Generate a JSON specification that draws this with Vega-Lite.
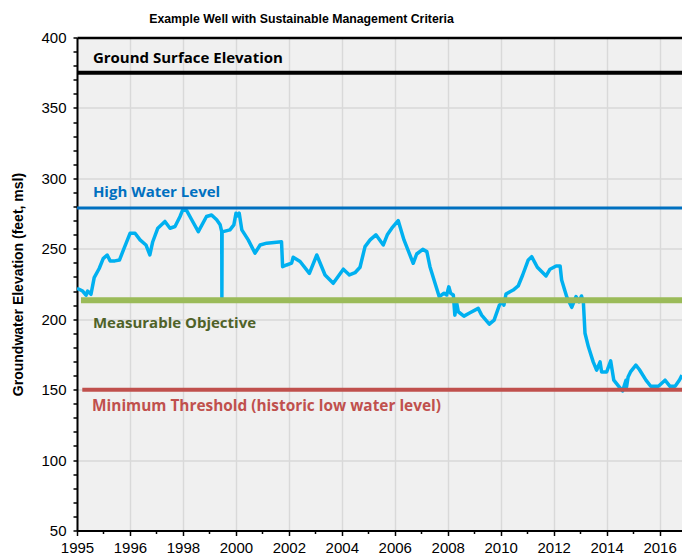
{
  "$schema": "https://vega.github.io/schema/vega-lite/v6.json",
  "width": 605,
  "height": 493,
  "autosize": "none",
  "padding": {"left": 77, "top": 37.5, "right": 0, "bottom": 26.5},
  "background": "white",
  "config": {
    "view": {"stroke": null, "fill": "#f0f0f0"},
    "axis": {"labelFont": "Liberation Sans", "labelFontSize": 15, "labelColor": "black", "titleFont": "Liberation Sans", "titleColor": "black"}
  },
  "title": {
    "text": "Example Well with Sustainable Management Criteria",
    "font": "Liberation Sans",
    "fontSize": 12.3,
    "fontWeight": "bold",
    "color": "black",
    "anchor": "middle",
    "frame": "group",
    "baseline": "alphabetic",
    "dx": -78,
    "offset": -4.5
  },
  "resolve": {"axis": {"x": "independent", "y": "independent"}},
  "datasets": {
    "water": [
      {"date": "1995-01-01", "level": 222},
      {"date": "1995-03-20", "level": 220},
      {"date": "1995-05-05", "level": 217},
      {"date": "1995-05-27", "level": 220},
      {"date": "1995-07-13", "level": 217.7},
      {"date": "1995-08-26", "level": 229.5},
      {"date": "1995-11-03", "level": 236},
      {"date": "1995-12-28", "level": 243},
      {"date": "1996-02-21", "level": 245.6},
      {"date": "1996-04-02", "level": 241.4},
      {"date": "1996-06-07", "level": 241.4},
      {"date": "1996-08-08", "level": 242},
      {"date": "1996-10-01", "level": 249},
      {"date": "1997-01-01", "level": 261},
      {"date": "1997-03-11", "level": 261},
      {"date": "1997-05-19", "level": 256.3},
      {"date": "1997-08-08", "level": 252.7},
      {"date": "1997-10-01", "level": 245.6},
      {"date": "1997-11-10", "level": 255},
      {"date": "1998-01-19", "level": 264.6},
      {"date": "1998-04-27", "level": 269.4},
      {"date": "1998-07-06", "level": 264.6},
      {"date": "1998-09-13", "level": 265.8},
      {"date": "1998-11-21", "level": 272.9},
      {"date": "1998-12-28", "level": 277.6},
      {"date": "1999-02-21", "level": 277.1},
      {"date": "1999-05-01", "level": 270.6},
      {"date": "1999-07-31", "level": 262.2},
      {"date": "1999-11-21", "level": 272.9},
      {"date": "2000-01-30", "level": 274},
      {"date": "2000-04-09", "level": 270.6},
      {"date": "2000-05-27", "level": 267},
      {"date": "2000-06-18", "level": 262.2},
      {"date": "2000-06-20", "level": 215.5},
      {"date": "2000-06-23", "level": 262},
      {"date": "2000-10-09", "level": 263.4},
      {"date": "2000-12-02", "level": 267},
      {"date": "2001-01-01", "level": 275.3},
      {"date": "2001-01-23", "level": 273.4},
      {"date": "2001-02-14", "level": 275.3},
      {"date": "2001-03-22", "level": 263.4},
      {"date": "2001-06-18", "level": 256.3},
      {"date": "2001-09-20", "level": 246.9},
      {"date": "2001-11-29", "level": 252.7},
      {"date": "2002-02-28", "level": 254},
      {"date": "2002-09-20", "level": 255},
      {"date": "2002-10-05", "level": 237.3},
      {"date": "2002-11-29", "level": 238.5},
      {"date": "2003-02-06", "level": 239.8},
      {"date": "2003-02-28", "level": 244},
      {"date": "2003-06-03", "level": 241},
      {"date": "2003-10-09", "level": 232.6},
      {"date": "2004-01-19", "level": 245.6},
      {"date": "2004-05-12", "level": 231.4},
      {"date": "2004-09-02", "level": 225.5},
      {"date": "2005-01-19", "level": 235.5},
      {"date": "2005-04-13", "level": 231.4},
      {"date": "2005-06-29", "level": 233},
      {"date": "2005-09-06", "level": 236.9},
      {"date": "2005-11-14", "level": 251.5},
      {"date": "2006-01-23", "level": 256.3},
      {"date": "2006-04-13", "level": 259.9},
      {"date": "2006-07-24", "level": 252.7},
      {"date": "2006-09-17", "level": 259.9},
      {"date": "2006-11-18", "level": 264.6},
      {"date": "2007-02-14", "level": 270},
      {"date": "2007-05-05", "level": 256.3},
      {"date": "2007-09-09", "level": 239.7},
      {"date": "2007-10-27", "level": 246.3},
      {"date": "2008-01-19", "level": 249.6},
      {"date": "2008-03-15", "level": 248},
      {"date": "2008-04-27", "level": 237.3},
      {"date": "2008-07-06", "level": 225.5},
      {"date": "2008-09-02", "level": 216},
      {"date": "2008-11-07", "level": 218.4},
      {"date": "2008-12-13", "level": 217.2},
      {"date": "2009-01-12", "level": 223},
      {"date": "2009-02-06", "level": 218.4},
      {"date": "2009-03-15", "level": 217.2},
      {"date": "2009-04-05", "level": 202.9},
      {"date": "2009-05-01", "level": 211.3},
      {"date": "2009-05-23", "level": 205.3},
      {"date": "2009-08-08", "level": 202.2},
      {"date": "2009-10-31", "level": 204.6},
      {"date": "2010-02-21", "level": 207.7},
      {"date": "2010-04-09", "level": 202.9},
      {"date": "2010-07-24", "level": 196.5},
      {"date": "2010-09-28", "level": 199.4},
      {"date": "2010-12-10", "level": 210},
      {"date": "2011-01-23", "level": 212.4},
      {"date": "2011-02-10", "level": 210},
      {"date": "2011-03-11", "level": 217.9},
      {"date": "2011-05-05", "level": 219.5},
      {"date": "2011-06-18", "level": 220.7},
      {"date": "2011-08-26", "level": 223.6},
      {"date": "2011-10-27", "level": 231.4},
      {"date": "2012-01-12", "level": 242.1},
      {"date": "2012-02-28", "level": 244.4},
      {"date": "2012-05-16", "level": 236.9},
      {"date": "2012-09-13", "level": 230.7},
      {"date": "2012-11-07", "level": 235.5},
      {"date": "2013-01-30", "level": 237.8},
      {"date": "2013-03-26", "level": 237.8},
      {"date": "2013-04-16", "level": 227.8},
      {"date": "2013-06-25", "level": 216},
      {"date": "2013-09-02", "level": 208.4},
      {"date": "2013-10-31", "level": 216},
      {"date": "2013-12-13", "level": 212.4},
      {"date": "2014-01-15", "level": 216.5},
      {"date": "2014-02-10", "level": 211.7},
      {"date": "2014-03-04", "level": 190},
      {"date": "2014-04-20", "level": 180.4},
      {"date": "2014-06-25", "level": 169.7},
      {"date": "2014-08-11", "level": 163.8},
      {"date": "2014-09-28", "level": 169.7},
      {"date": "2014-10-19", "level": 162.6},
      {"date": "2014-12-28", "level": 162.6},
      {"date": "2015-02-21", "level": 170.4},
      {"date": "2015-04-05", "level": 156.7},
      {"date": "2015-06-18", "level": 152},
      {"date": "2015-08-04", "level": 149.1},
      {"date": "2015-09-20", "level": 156.7},
      {"date": "2015-09-28", "level": 152},
      {"date": "2015-10-19", "level": 159},
      {"date": "2015-11-21", "level": 162.6},
      {"date": "2016-02-03", "level": 167.4},
      {"date": "2016-03-22", "level": 164.3},
      {"date": "2016-06-21", "level": 156.7},
      {"date": "2016-08-26", "level": 152.4},
      {"date": "2016-12-10", "level": 152.4},
      {"date": "2017-03-11", "level": 156.7},
      {"date": "2017-05-19", "level": 152.4},
      {"date": "2017-07-28", "level": 152.4},
      {"date": "2017-09-24", "level": 156.7},
      {"date": "2017-10-31", "level": 160.3}
    ],
    "criteria": [
      {"name": "Ground Surface Elevation", "label": "Ground Surface Elevation", "value": 375, "start": "1995-01-01", "end": "2017-10-31"},
      {"name": "High Water Level", "label": "High Water Level", "value": 279, "start": "1995-01-01", "end": "2017-10-31"},
      {"name": "Measurable Objective", "label": "Measurable Objective", "value": 213.5, "start": "1995-02-25", "end": "2017-10-31"},
      {"name": "Minimum Threshold", "label": "Minimum Threshold (historic low water level)", "value": 150, "start": "1995-03-15", "end": "2017-10-31"}
    ]
  },
  "layer": [
    {
      "data": {"name": "water"},
      "mark": {"type": "line", "color": "#00B0F0", "strokeWidth": 3.5, "strokeJoin": "round", "clip": true},
      "encoding": {
        "x": {
          "field": "date",
          "type": "temporal",
          "scale": {"type": "utc", "domain": [{"year": 1995, "month": 1, "date": 1, "utc": true}, {"year": 2017, "month": 10, "date": 31, "utc": true}]},
          "axis": {
            "title": null,
            "values": [
              {"year": 1995, "month": 1, "date": 1, "utc": true},
              {"year": 1996, "month": 1, "date": 1, "utc": true},
              {"year": 1996, "month": 12, "date": 31, "utc": true},
              {"year": 1997, "month": 12, "date": 31, "utc": true},
              {"year": 1998, "month": 12, "date": 31, "utc": true},
              {"year": 1999, "month": 12, "date": 31, "utc": true},
              {"year": 2000, "month": 12, "date": 30, "utc": true},
              {"year": 2001, "month": 12, "date": 30, "utc": true},
              {"year": 2002, "month": 12, "date": 30, "utc": true},
              {"year": 2003, "month": 12, "date": 30, "utc": true},
              {"year": 2004, "month": 12, "date": 29, "utc": true},
              {"year": 2005, "month": 12, "date": 29, "utc": true},
              {"year": 2006, "month": 12, "date": 29, "utc": true},
              {"year": 2007, "month": 12, "date": 29, "utc": true},
              {"year": 2008, "month": 12, "date": 28, "utc": true},
              {"year": 2009, "month": 12, "date": 28, "utc": true},
              {"year": 2010, "month": 12, "date": 28, "utc": true},
              {"year": 2011, "month": 12, "date": 28, "utc": true},
              {"year": 2012, "month": 12, "date": 27, "utc": true},
              {"year": 2013, "month": 12, "date": 27, "utc": true},
              {"year": 2014, "month": 12, "date": 27, "utc": true},
              {"year": 2015, "month": 12, "date": 27, "utc": true},
              {"year": 2016, "month": 12, "date": 26, "utc": true}
            ],
            "format": "%Y",
            "labelExpr": "round(datum.index*22) % 2 == 1 ? '' : datum.label",
            "labelOverlap": false,
            "labelFlush": false,
            "labelPadding": 5,
            "grid": true,
            "gridColor": "#d9d9d9",
            "gridWidth": 1.5,
            "gridOpacity": {"condition": {"test": "round(datum.index*22) % 2 == 1", "value": 0}, "value": 1},
            "tickSize": {"condition": {"test": "round(datum.index*22) % 2 == 1", "value": 3}, "value": 5},
            "tickColor": "black",
            "tickWidth": 1.5,
            "domainColor": "black",
            "domainWidth": 2
          }
        },
        "y": {
          "field": "level",
          "type": "quantitative",
          "scale": {"domain": [50, 400], "nice": false, "zero": false},
          "axis": {
            "title": "Groundwater Elevation (feet, msl)",
            "titleFontSize": 14,
            "titleFontWeight": "bold",
            "titlePadding": 15,
            "values": [50,60,70,80,90,100,110,120,130,140,150,160,170,180,190,200,210,220,230,240,250,260,270,280,290,300,310,320,330,340,350,360,370,380,390,400],
            "labelExpr": "datum.value % 50 == 0 ? datum.label : ''",
            "labelOverlap": false,
            "labelFlush": false,
            "labelPadding": 7,
            "grid": true,
            "gridColor": {"condition": {"test": "datum.value == 400", "value": "black"}, "value": "#d9d9d9"},
            "gridWidth": {"condition": {"test": "datum.value == 400", "value": 2.5}, "value": 1.5},
            "gridOpacity": {"condition": {"test": "datum.value % 50 != 0", "value": 0}, "value": 1},
            "tickSize": 4,
            "tickColor": "black",
            "tickWidth": 1.5,
            "domainColor": "black",
            "domainWidth": 2
          }
        }
      }
    },
    {
      "data": {"name": "criteria"},
      "mark": {"type": "rule"},
      "encoding": {
        "x": {"field": "start", "type": "temporal", "axis": null},
        "x2": {"field": "end"},
        "y": {"field": "value", "type": "quantitative", "axis": null},
        "color": {"field": "name", "type": "nominal", "legend": null, "scale": {"domain": ["Ground Surface Elevation", "High Water Level", "Measurable Objective", "Minimum Threshold"], "range": ["#000000", "#0070C0", "#9BBB59", "#C0504D"]}},
        "strokeWidth": {"field": "name", "type": "nominal", "legend": null, "scale": {"type": "ordinal", "domain": ["Ground Surface Elevation", "High Water Level", "Measurable Objective", "Minimum Threshold"], "range": [4, 3, 6, 4]}}
      }
    },
    {
      "data": {"name": "criteria"},
      "transform": [{"filter": "datum.name == 'Ground Surface Elevation'"}],
      "mark": {"type": "text", "align": "left", "baseline": "alphabetic", "dy": -9.5, "font": "Open Sans", "fontWeight": "bold", "fontSize": 15, "color": "#000000"},
      "encoding": {
        "x": {"datum": {"year": 1995, "month": 8, "date": 8, "utc": true}, "type": "temporal", "axis": null},
        "y": {"field": "value", "type": "quantitative", "axis": null},
        "text": {"field": "label"}
      }
    },
    {
      "data": {"name": "criteria"},
      "transform": [{"filter": "datum.name == 'High Water Level'"}],
      "mark": {"type": "text", "align": "left", "baseline": "alphabetic", "dy": -11, "font": "Open Sans", "fontWeight": "bold", "fontSize": 15, "color": "#0070C0"},
      "encoding": {
        "x": {"datum": {"year": 1995, "month": 8, "date": 8, "utc": true}, "type": "temporal", "axis": null},
        "y": {"field": "value", "type": "quantitative", "axis": null},
        "text": {"field": "label"}
      }
    },
    {
      "data": {"name": "criteria"},
      "transform": [{"filter": "datum.name == 'Measurable Objective'"}],
      "mark": {"type": "text", "align": "left", "baseline": "alphabetic", "dy": 27.5, "font": "Open Sans", "fontWeight": "bold", "fontSize": 15, "color": "#4F6228"},
      "encoding": {
        "x": {"datum": {"year": 1995, "month": 8, "date": 8, "utc": true}, "type": "temporal", "axis": null},
        "y": {"field": "value", "type": "quantitative", "axis": null},
        "text": {"field": "label"}
      }
    },
    {
      "data": {"name": "criteria"},
      "transform": [{"filter": "datum.name == 'Minimum Threshold'"}],
      "mark": {"type": "text", "align": "left", "baseline": "alphabetic", "dy": 21.5, "font": "Open Sans", "fontWeight": "bold", "fontSize": 15.4, "color": "#C0504D"},
      "encoding": {
        "x": {"datum": {"year": 1995, "month": 7, "date": 28, "utc": true}, "type": "temporal", "axis": null},
        "y": {"field": "value", "type": "quantitative", "axis": null},
        "text": {"field": "label"}
      }
    }
  ]
}
